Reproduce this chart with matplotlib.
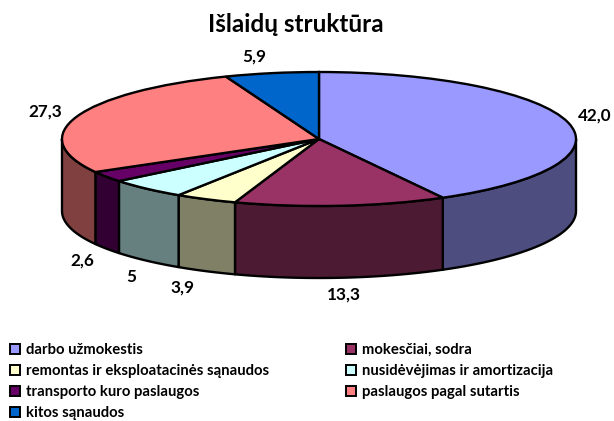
import numpy as np
import matplotlib
matplotlib.use('Agg')
import matplotlib.pyplot as plt
from matplotlib.patches import Patch

# Data
categories = ['darbo užmokestis', 'mokesčiai, sodra', 'remontas ir eksploatacinės sąnaudos',
              'nusidėvėjimas ir amortizacija', 'transporto kuro paslaugos',
              'paslaugos pagal sutartis', 'kitos sąnaudos']
values = [42.0, 13.3, 3.9, 5, 2.6, 27.3, 5.9]
value_labels = ['42,0', '13,3', '3,9', '5', '2,6', '27,3', '5,9']
top_colors = ['#9999ff', '#993366', '#ffffcc', '#ccffff', '#660066', '#ff8080', '#0066cc']
side_colors = ['#4d4d80', '#4d1a33', '#808066', '#668080', '#330033', '#804040', '#003366']

# label centres in pixels
label_pos = [(595, 116), (344, 295), (182, 288), (131, 277), (82, 261), (45, 112), (254, 57)]

W, H = 614, 421
cx, cy = 319, 139
rx, ry = 257, 67
depth = 72 / ry

plt.rcParams['font.family'] = ['Lato', 'DejaVu Sans']
plt.rcParams['font.weight'] = 'bold'

fig = plt.figure(figsize=(W / 100, H / 100), dpi=100)
ax = fig.add_axes([0, 0, 1, 1])

# side wall, front half only (clockwise angle from the top, 90..270 deg is the front)
edges = np.cumsum([0] + values) / sum(values) * 360
for i in range(len(values)):
    a0 = max(edges[i], 90)
    a1 = min(edges[i + 1], 270)
    if a1 <= a0:
        continue
    t = np.radians(np.linspace(a0, a1, 80))
    x = np.sin(t)
    y = np.cos(t)
    ax.fill(np.r_[x, x[::-1]], np.r_[y, y[::-1] - depth], facecolor=side_colors[i],
            edgecolor='black', linewidth=1.7, joinstyle='round')

# top face
ax.pie(values, colors=top_colors, startangle=90, counterclock=False,
       wedgeprops={'edgecolor': 'black', 'linewidth': 1.7})

ax.set_aspect('auto')
ax.set_xlim(-cx / rx, (W - cx) / rx)
ax.set_ylim((cy - H) / ry, cy / ry)
ax.axis('off')

for lab, (px, py) in zip(value_labels, label_pos):
    fig.text(px / W, 1 - py / H, lab, ha='center', va='center', fontsize=12.3, color='black')

fig.text(296 / W, 1 - 25 / H, 'Išlaidų struktūra', ha='center', va='center', fontsize=17.5)

# legend reads row by row, matplotlib fills columns, so reorder
order = [0, 2, 4, 6, 1, 3, 5]
handles = [Patch(facecolor=top_colors[i], edgecolor='black', linewidth=1.4) for i in order]
fig.legend(handles, [categories[i] for i in order], ncols=2, frameon=False,
           loc='upper left', bbox_to_anchor=(10 / W, 1 - 343 / H), borderaxespad=0, borderpad=0,
           fontsize=10.7, handlelength=0.65, handleheight=0.7, handletextpad=0.42,
           labelspacing=0.48, columnspacing=5.2)

fig.savefig('out.png', dpi=100)
